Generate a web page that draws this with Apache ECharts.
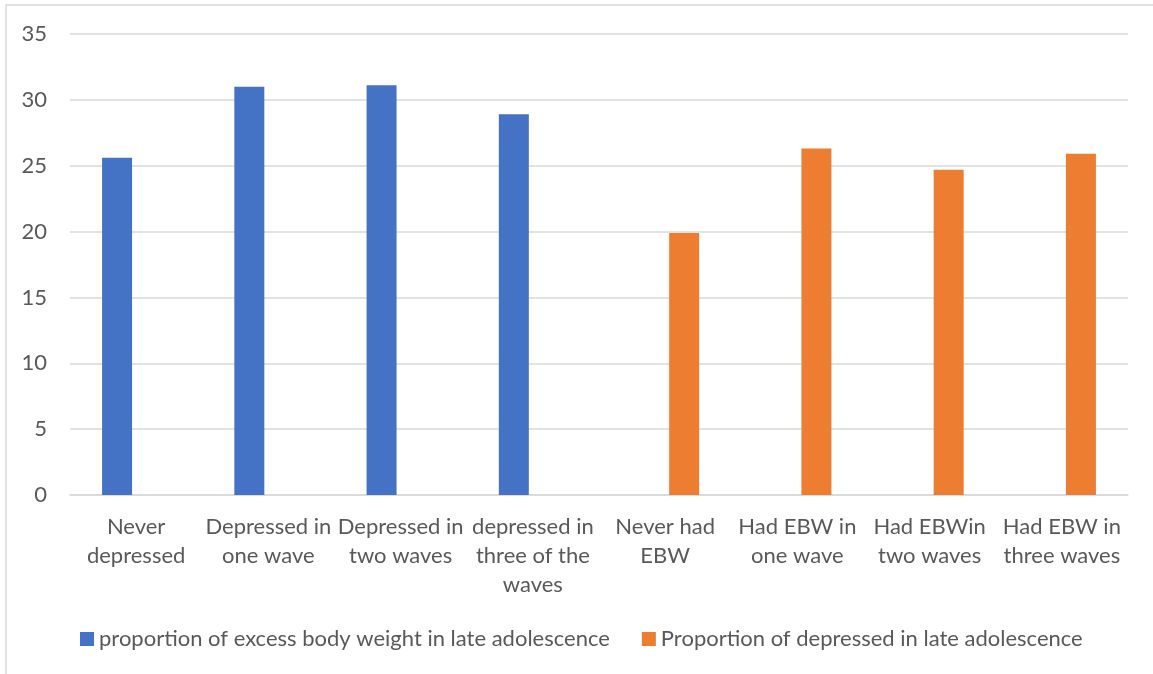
<!DOCTYPE html>
<html>
<head>
<meta charset="utf-8">
<script src="https://cdn.jsdelivr.net/npm/echarts@6/dist/echarts.min.js"></script>
<style>
  html, body { margin: 0; padding: 0; background: #ffffff; }
  #chart { width: 1153px; height: 674px; }
</style>
</head>
<body>
<div id="chart"></div>
<script>
// Group labels along the x axis (line breaks as printed under each bar)
const categories = [
  'Never\ndepressed',
  'Depressed in\none wave',
  'Depressed in\ntwo waves',
  'depressed in\nthree of the\nwaves',
  'Never had\nEBW',
  'Had EBW in\none wave',
  'Had EBWin\ntwo waves',
  'Had EBW in\nthree waves'
];

// Series names
const seriesNames = [
  'proportion of excess body weight in late adolescence',
  'Proportion of depressed in late adolescence'
];

// Values (%) for each group; '-' where a series has no bar
const excessBodyWeight = [25.6, 31.0, 31.1, 28.9, '-', '-', '-', '-'];
const depressed = ['-', '-', '-', '-', 19.9, 26.3, 24.7, 25.9];

// Value axis settings
const yMin = 0;
const yMax = 35;
const yStep = 5;

const FONT = 'Lato, "Open Sans", sans-serif';
const TEXT = '#595959';
const GRID = '#d9d9d9';

const chart = echarts.init(document.getElementById('chart'), null, { renderer: 'canvas' });

chart.setOption({
  backgroundColor: '#ffffff',
  animation: false,
  textStyle: { fontFamily: FONT },
  graphic: [{
    type: 'rect',
    shape: { x: 6, y: 5, width: 1160, height: 700 },
    style: { fill: 'none', stroke: GRID, lineWidth: 1.5 },
    silent: true
  }],
  grid: { left: 70, right: 25, top: 34, bottom: 179, containLabel: false },
  legend: {
    data: seriesNames,
    left: 75,
    top: 623,
    itemWidth: 14,
    itemHeight: 14,
    itemGap: 32,
    icon: 'rect',
    textStyle: { color: TEXT, fontSize: 22, fontFamily: FONT }
  },
  xAxis: {
    type: 'category',
    data: categories,
    axisLine: { show: true, lineStyle: { color: GRID, width: 1.5 } },
    axisTick: { show: false },
    axisLabel: {
      interval: 0,
      color: TEXT,
      fontSize: 22,
      lineHeight: 29,
      margin: 17,
      fontFamily: FONT
    }
  },
  yAxis: {
    type: 'value',
    min: yMin,
    max: yMax,
    interval: yStep,
    axisLine: { show: false },
    axisTick: { show: false },
    splitLine: { lineStyle: { color: GRID, width: 1.5 } },
    axisLabel: { color: TEXT, fontSize: 22, margin: 23, fontFamily: FONT }
  },
  series: [
    {
      name: seriesNames[0],
      type: 'bar',
      data: excessBodyWeight,
      barWidth: 30,
      barGap: '27%',
      itemStyle: { color: '#4472C4' }
    },
    {
      name: seriesNames[1],
      type: 'bar',
      data: depressed,
      barWidth: 30,
      barGap: '27%',
      itemStyle: { color: '#ED7D31' }
    }
  ]
});
</script>
</body>
</html>
